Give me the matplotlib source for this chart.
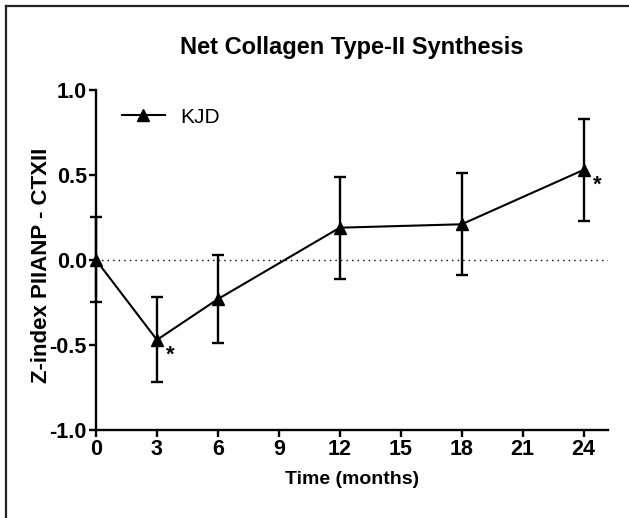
import numpy as np
import matplotlib.pyplot as plt
from matplotlib.lines import Line2D

plt.rcParams['font.family'] = ['Liberation Sans', 'DejaVu Sans']

months = [0, 3, 6, 12, 18, 24]
kjd = [0.0, -0.47, -0.23, 0.19, 0.21, 0.53]
kjd_err = [0.25, 0.25, 0.26, 0.30, 0.30, 0.30]
star_months = [3, 24]

fig = plt.figure(figsize=(6.29, 5.18), dpi=100)
ax = fig.add_axes([0.1526, 0.1699, 0.814, 0.6564])

ax.axhline(0, color='black', lw=1.0, ls=(0, (1, 3)), zorder=1)
eb = ax.errorbar(months, kjd, yerr=kjd_err, color='black', lw=1.5,
                 marker='^', markersize=8, capsize=4, elinewidth=1.7,
                 capthick=1.7, clip_on=False, zorder=3)
for part in eb.lines[1] + eb.lines[2]:
    part.set_clip_on(False)

# significance marks
for m in star_months:
    i = months.index(m)
    ax.text(m + 0.65, kjd[i] - 0.09, '*', fontsize=16, fontweight='bold',
            ha='center', va='center')

ax.set_xlim(0, 25.2)
ax.set_ylim(-1, 1)
ax.set_xticks(np.arange(0, 25, 3))
ax.set_yticks([-1.0, -0.5, 0.0, 0.5, 1.0])
ax.yaxis.set_major_formatter(plt.FormatStrFormatter('%.1f'))
for s in ['top', 'right']:
    ax.spines[s].set_visible(False)
for s in ['left', 'bottom']:
    ax.spines[s].set_linewidth(1.7)
ax.tick_params(width=1.7, length=5, labelsize=15.5, pad=1.5)
for lab in ax.get_xticklabels() + ax.get_yticklabels():
    lab.set_fontweight('bold')

ax.set_xlabel('Time (months)', fontsize=14, fontweight='bold')
ax.set_ylabel('Z-index PIIANP - CTXII', fontsize=16, fontweight='bold')
ax.xaxis.set_label_coords(0.5, -0.12)
ax.yaxis.set_label_coords(-0.086, 0.485)
fig.text(0.559, 0.909, 'Net Collagen Type-II Synthesis', fontsize=17,
         fontweight='bold', ha='center', va='center')

handle = Line2D([], [], color='black', lw=1.5, marker='^', markersize=8)
ax.legend([handle], ['KJD'], loc='center left', bbox_to_anchor=(0.05, 0.92),
          frameon=False, fontsize=15, handlelength=2.1, handletextpad=0.7,
          borderpad=0, borderaxespad=0)

fig.add_artist(Line2D([0.0103, 0.0103], [0, 0.988], color='#222222', lw=1.6))
fig.add_artist(Line2D([0.0103, 1], [0.988, 0.988], color='#222222', lw=1.6))

fig.savefig('out.png', dpi=100)
